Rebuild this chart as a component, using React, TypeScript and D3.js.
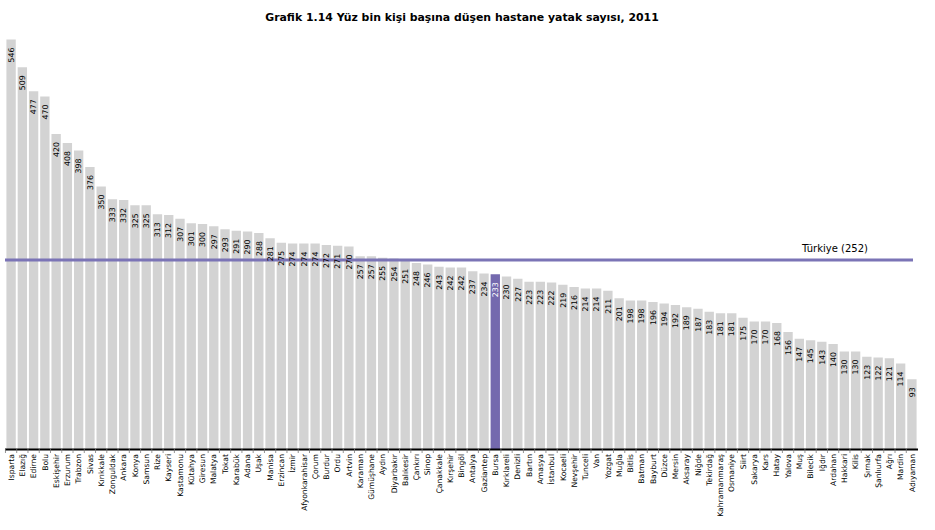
import React from "react";
import * as d3 from "d3";

const provinces: string[] = [
  "Isparta", "Elazığ", "Edirne", "Bolu", "Eskişehir", "Erzurum", "Trabzon", "Sivas", "Kırıkkale", "Zonguldak",
  "Ankara", "Konya", "Samsun", "Rize", "Kayseri", "Kastamonu", "Kütahya", "Giresun", "Malatya", "Tokat",
  "Karabük", "Adana", "Uşak", "Manisa", "Erzincan", "İzmir", "Afyonkarahisar", "Çorum", "Burdur", "Ordu",
  "Artvin", "Karaman", "Gümüşhane", "Aydın", "Diyarbakır", "Balıkesir", "Çankırı", "Sinop", "Çanakkale", "Kırşehir",
  "Bingöl", "Antalya", "Gaziantep", "Bursa", "Kırklareli", "Denizli", "Bartın", "Amasya", "İstanbul", "Kocaeli",
  "Nevşehir", "Tunceli", "Van", "Yozgat", "Muğla", "Bitlis", "Batman", "Bayburt", "Düzce", "Mersin",
  "Aksaray", "Niğde", "Tekirdağ", "Kahramanmaraş", "Osmaniye", "Siirt", "Sakarya", "Kars", "Hatay", "Yalova",
  "Muş", "Bilecik", "Iğdır", "Ardahan", "Hakkari", "Kilis", "Şırnak", "Şanlıurfa", "Ağrı", "Mardin", "Adıyaman",
];

const beds: number[] = [
  546, 509, 477, 470, 420, 408, 398, 376, 350, 333,
  332, 325, 325, 313, 312, 307, 301, 300, 297, 293,
  291, 290, 288, 281, 275, 274, 274, 274, 272, 271,
  270, 257, 257, 255, 254, 251, 248, 246, 243, 242,
  242, 237, 234, 233, 230, 227, 223, 223, 222, 219,
  216, 214, 214, 211, 201, 198, 198, 196, 194, 192,
  189, 187, 183, 181, 181, 175, 170, 170, 168, 156,
  147, 145, 143, 140, 130, 130, 123, 122, 121, 114, 93,
];

const highlighted = "Bursa";
const turkeyValue = 252;
const turkeyLabel = "Türkiye (252)";
const title = "Grafik 1.14 Yüz bin kişi başına düşen hastane yatak sayısı, 2011";

const W = 935;
const H = 530;
const baseY = 449;
const FONT = "'DejaVu Sans', Verdana, sans-serif";

export default function App() {
  const x = d3
    .scaleBand<string>()
    .domain(provinces)
    .range([4.5, 918.5])
    .paddingInner(0.17)
    .paddingOuter(0.17);
  const y = d3.scaleLinear().domain([0, 546]).range([baseY, 39.5]);
  const step = x.step();
  const gap = (step - x.bandwidth()) / 2;

  return (
    <svg
      width={W}
      height={H}
      style={{ position: "absolute", left: 0, top: 0, background: "#fff" }}
      fontFamily={FONT}
    >
      <text x={462} y={20.5} textAnchor="middle" fontWeight="bold" fontSize={10.9} fill="#000">
        {title}
      </text>
      {provinces.map((p) => {
        const v = beds[provinces.indexOf(p)];
        const bx = x(p)!;
        return (
          <rect
            key={"b" + p}
            x={bx}
            y={y(v)}
            width={x.bandwidth()}
            height={baseY - y(v)}
            fill={p === highlighted ? "#7469ae" : "#d3d3d3"}
          />
        );
      })}
      <line
        x1={5}
        x2={913}
        y1={y(turkeyValue)}
        y2={y(turkeyValue)}
        stroke="#7b74b6"
        strokeWidth={3}
      />
      <text x={835} y={y(turkeyValue) - 8} textAnchor="middle" fontSize={10} fill="#000">
        {turkeyLabel}
      </text>
      {provinces.map((p, i) => {
        const v = beds[i];
        const bx = x(p)!;
        return (
          <text
            key={"v" + p}
            transform={`translate(${bx + x.bandwidth() / 2},${y(v) + 8}) rotate(-90)`}
            dy="0.35em"
            textAnchor="end"
            fontSize={7.8}
            fill={p === highlighted ? "#fff" : "#000"}
          >
            {v}
          </text>
        );
      })}
      <line x1={5} x2={918} y1={baseY + 0.5} y2={baseY + 0.5} stroke="#000" strokeWidth={1.8} />
      {provinces.map((p) => {
        const tx = x(p)! - gap;
        return <line key={"t" + p} x1={tx} x2={tx} y1={baseY} y2={baseY + 4} stroke="#777" strokeWidth={0.8} />;
      })}
      {provinces.map((p) => (
        <text
          key={"l" + p}
          transform={`translate(${x(p)! + x.bandwidth() / 2},${baseY + 5}) rotate(-90)`}
          dy="0.35em"
          textAnchor="end"
          fontSize={7.6}
          fill="#000"
        >
          {p}
        </text>
      ))}
    </svg>
  );
}
